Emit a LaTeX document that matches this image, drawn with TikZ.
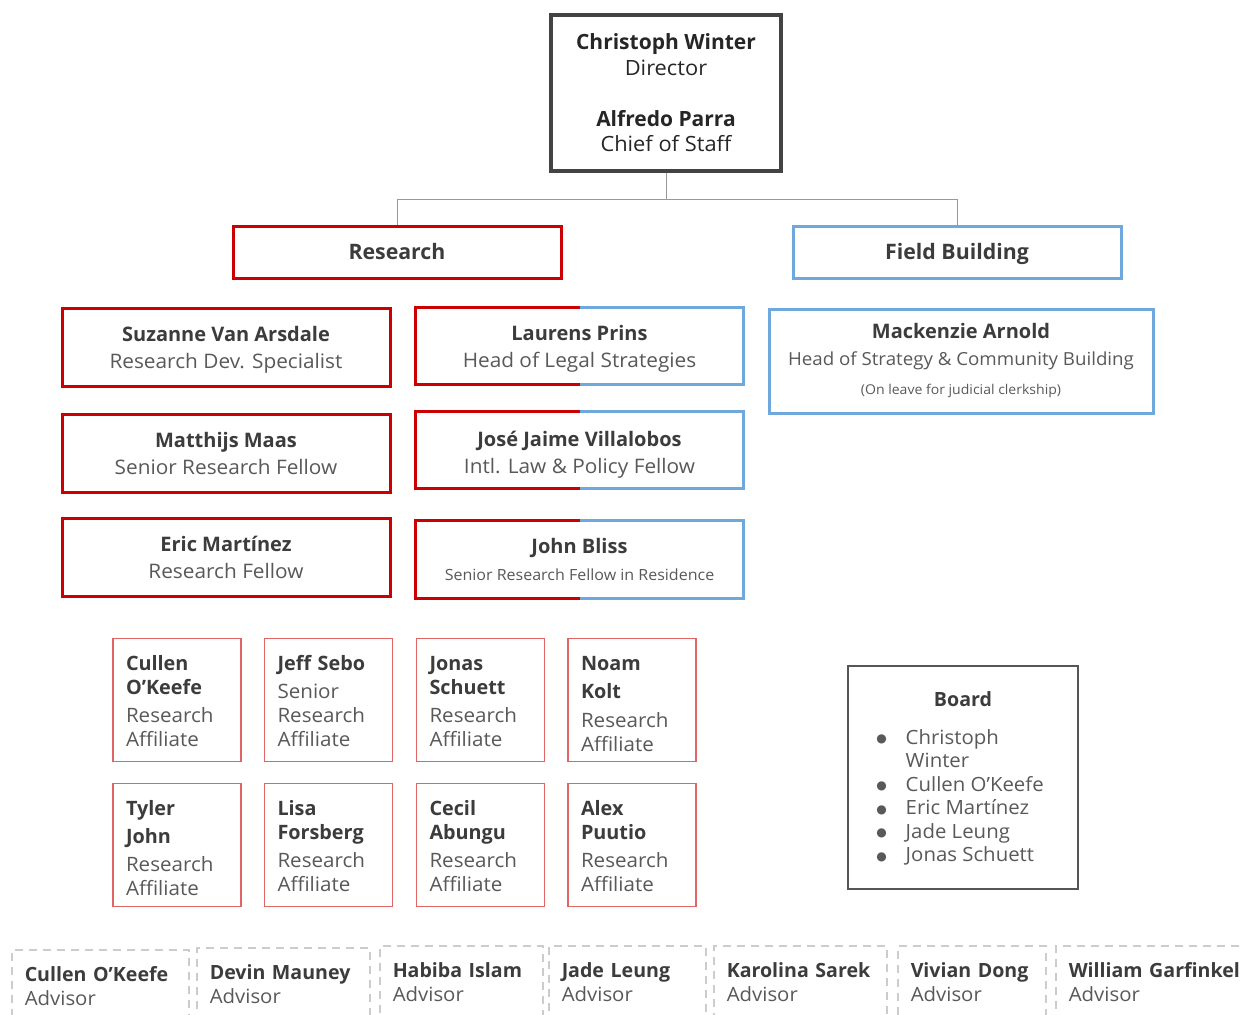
\documentclass[tikz,border=0pt]{standalone}
\usepackage{fontspec}
\setmainfont{Open Sans}[UprightFeatures={FakeStretch=1.04}]
\newfontfamily\symfont{DejaVu Sans}
\usetikzlibrary{positioning}
\definecolor{resred}{HTML}{CC0000}
\definecolor{fieldblue}{HTML}{6FA8DC}
\definecolor{affred}{HTML}{E06666}
\definecolor{boxgray}{HTML}{434343}
\definecolor{namegray}{HTML}{3C3C3C}
\definecolor{rolegray}{HTML}{595959}
\definecolor{conngray}{HTML}{999999}
\definecolor{dashgray}{HTML}{CCCCCC}
\newcommand{\nm}[1]{{\bfseries\color{namegray}#1}}
\newcommand{\bul}{\raisebox{1.5pt}{\symfont\fontsize{12}{0}\selectfont ●}}

\begin{document}
\begin{tikzpicture}[x=1pt,y=-1pt]
          \tikzstyle{base} = [inner sep=0pt, align=center, text=rolegray, font=\fontsize{20}{27}\selectfont]
          \tikzstyle{topbox} = [base, draw=boxgray, line width=3.5pt, minimum width=230pt, minimum height=156pt, text=black!85, font=\fontsize{21}{25.5}\selectfont]
          \tikzstyle{redhead} = [base, draw=resred, line width=3pt, minimum width=328pt, minimum height=52pt, text height=15pt, text depth=0pt, font=\fontsize{21.3}{26}\selectfont]
          \tikzstyle{bluehead} = [redhead, draw=fieldblue]
          \tikzstyle{redbox} = [base, draw=resred, line width=3pt, minimum width=328pt, minimum height=78pt]
          \tikzstyle{splitbox} = [base, minimum width=327pt, minimum height=77pt]
          \tikzstyle{affil} = [base, draw=affred, line width=1.2pt, anchor=north, text width=102pt, inner xsep=13pt, inner ysep=17pt, text height=15pt, text depth=74pt, align=left, font=\fontsize{19.8}{24}\selectfont]
          \tikzstyle{boardbox} = [base, draw=boxgray!90, line width=2.5pt, minimum width=230pt, minimum height=223pt, font=\fontsize{19.6}{23.5}\selectfont]
          \tikzstyle{advisor} = [draw=dashgray, dash pattern=on 8pt off 6pt, line width=1.5pt, anchor=north west, align=left, inner xsep=13pt, inner ysep=17pt, text height=15pt, text depth=70pt, text=rolegray, font=\fontsize{19.6}{24}\selectfont]
          \tikzstyle{conn} = [draw=conngray, line width=1pt]

          \fill[white] (0,0) rectangle (1243,1015);
          \useasboundingbox (0,0) rectangle (1243,1015);

          % director and chief of staff
          \node[topbox] (top) at (666,93) {\textbf{Christoph Winter}\\Director\\[25.5pt]\textbf{Alfredo Parra}\\Chief of Staff};

          % the two branches
          \node[redhead] (research) at (397,252) {\nm{Research}};
          \node[bluehead] (field) at (957,252) {\nm{Field Building}};
          \draw[conn] (top.south) -- ++(0,27) -| (research.north);
          \draw[conn] (top.south) -- ++(0,27) -| (field.north);

          % research staff
          \node[redbox] (suzanne) at (226,347) {\rule{0pt}{21pt}\nm{Suzanne Van Arsdale}\\Research Dev. Specialist};
          \node[redbox] (matthijs) at (226,453) {\nm{Matthijs Maas}\\Senior Research Fellow};
          \node[redbox] (eric) at (226,557.5) {\nm{Eric Martínez}\\Research Fellow};

          % shared between both branches
          \node[splitbox] (laurens) at (579.5,346) {\rule{0pt}{21pt}\nm{Laurens Prins}\\Head of Legal Strategies};
          \node[splitbox] (jose) at (579.5,450) {\rule{0pt}{25pt}\nm{José Jaime Villalobos}\\Intl. Law \& Policy Fellow};
          \node[splitbox] (bliss) at (579.5,559.5) {\nm{John Bliss}\\{\fontsize{15.4}{20}\selectfont Senior Research Fellow in Residence}};
          \foreach \n in {laurens,jose,bliss} {
            \draw[resred, line width=3pt] (\n.north) -- (\n.north west) -- (\n.south west) -- (\n.south);
            \draw[fieldblue, line width=3pt] (\n.north) -- (\n.north east) -- (\n.south east) -- (\n.south);
          }

          % field building
          \node[base, draw=fieldblue, line width=3pt, minimum width=384pt, minimum height=104pt] (mackenzie) at (961,361)
            {\nm{Mackenzie Arnold}\\{\fontsize{18}{26}\selectfont Head of Strategy \& Community Building}\\[2pt]{\fontsize{13.5}{18}\selectfont (On leave for judicial clerkship)}};

          % research affiliates
          \node[affil] (cullen) at (177,638) {\nm{Cullen}\\\nm{O’Keefe}\\[4pt]Research\\Affiliate};
          \node[affil] (sebo) at (328.5,638) {\nm{Jeff Sebo}\\[4pt]Senior\\Research\\Affiliate};
          \node[affil] (jonas) at (480.5,638) {\nm{Jonas}\\\nm{Schuett}\\[4pt]Research\\Affiliate};
          \node[affil] (noam) at (632,638) {\nm{Noam}\\[4pt]\nm{Kolt}\\[5pt]Research\\Affiliate};
          \node[affil] (tyler) at (177,783) {\nm{Tyler}\\[4pt]\nm{John}\\[4pt]Research\\Affiliate};
          \node[affil] (lisa) at (328.5,783) {\nm{Lisa}\\\nm{Forsberg}\\[4pt]Research\\Affiliate};
          \node[affil] (cecil) at (480.5,783) {\nm{Cecil}\\\nm{Abungu}\\[4pt]Research\\Affiliate};
          \node[affil] (alex) at (632,783) {\nm{Alex}\\\nm{Puutio}\\[4pt]Research\\Affiliate};

          % board
          \node[boardbox] (board) at (963,777.5) {\begin{tabular}{@{}l@{\hspace{19pt}}l@{\hspace{6pt}}}
            \multicolumn{2}{c}{\rule{0pt}{20.5pt}\nm{Board}}\\[14pt]
            \bul & Christoph\\
                 & Winter\\
            \bul & Cullen O’Keefe\\
            \bul & Eric Martínez\\
            \bul & Jade Leung\\
            \bul & Jonas Schuett
          \end{tabular}};

          % advisors
          \node[advisor, minimum width=177pt, text width=151pt] (adv1) at (11,949) {\nm{Cullen O’Keefe}\\Advisor};
          \node[advisor, minimum width=173pt, text width=147pt] (adv2) at (196,947) {\nm{Devin Mauney}\\Advisor};
          \node[advisor, minimum width=163pt, text width=137pt] (adv3) at (379,945) {\nm{Habiba Islam}\\Advisor};
          \node[advisor, minimum width=157pt, text width=131pt] (adv4) at (548,945) {\nm{Jade Leung}\\Advisor};
          \node[advisor, minimum width=173pt, text width=147pt] (adv5) at (713,945) {\nm{Karolina Sarek}\\Advisor};
          \node[advisor, minimum width=148pt, text width=122pt] (adv6) at (897,945) {\mbox{\nm{Vivian Dong}}\\Advisor};
          \node[advisor, minimum width=207pt, text width=181pt] (adv7) at (1055,945) {\nm{William Garfinkel}\\Advisor};
        \end{tikzpicture}
\end{document}
